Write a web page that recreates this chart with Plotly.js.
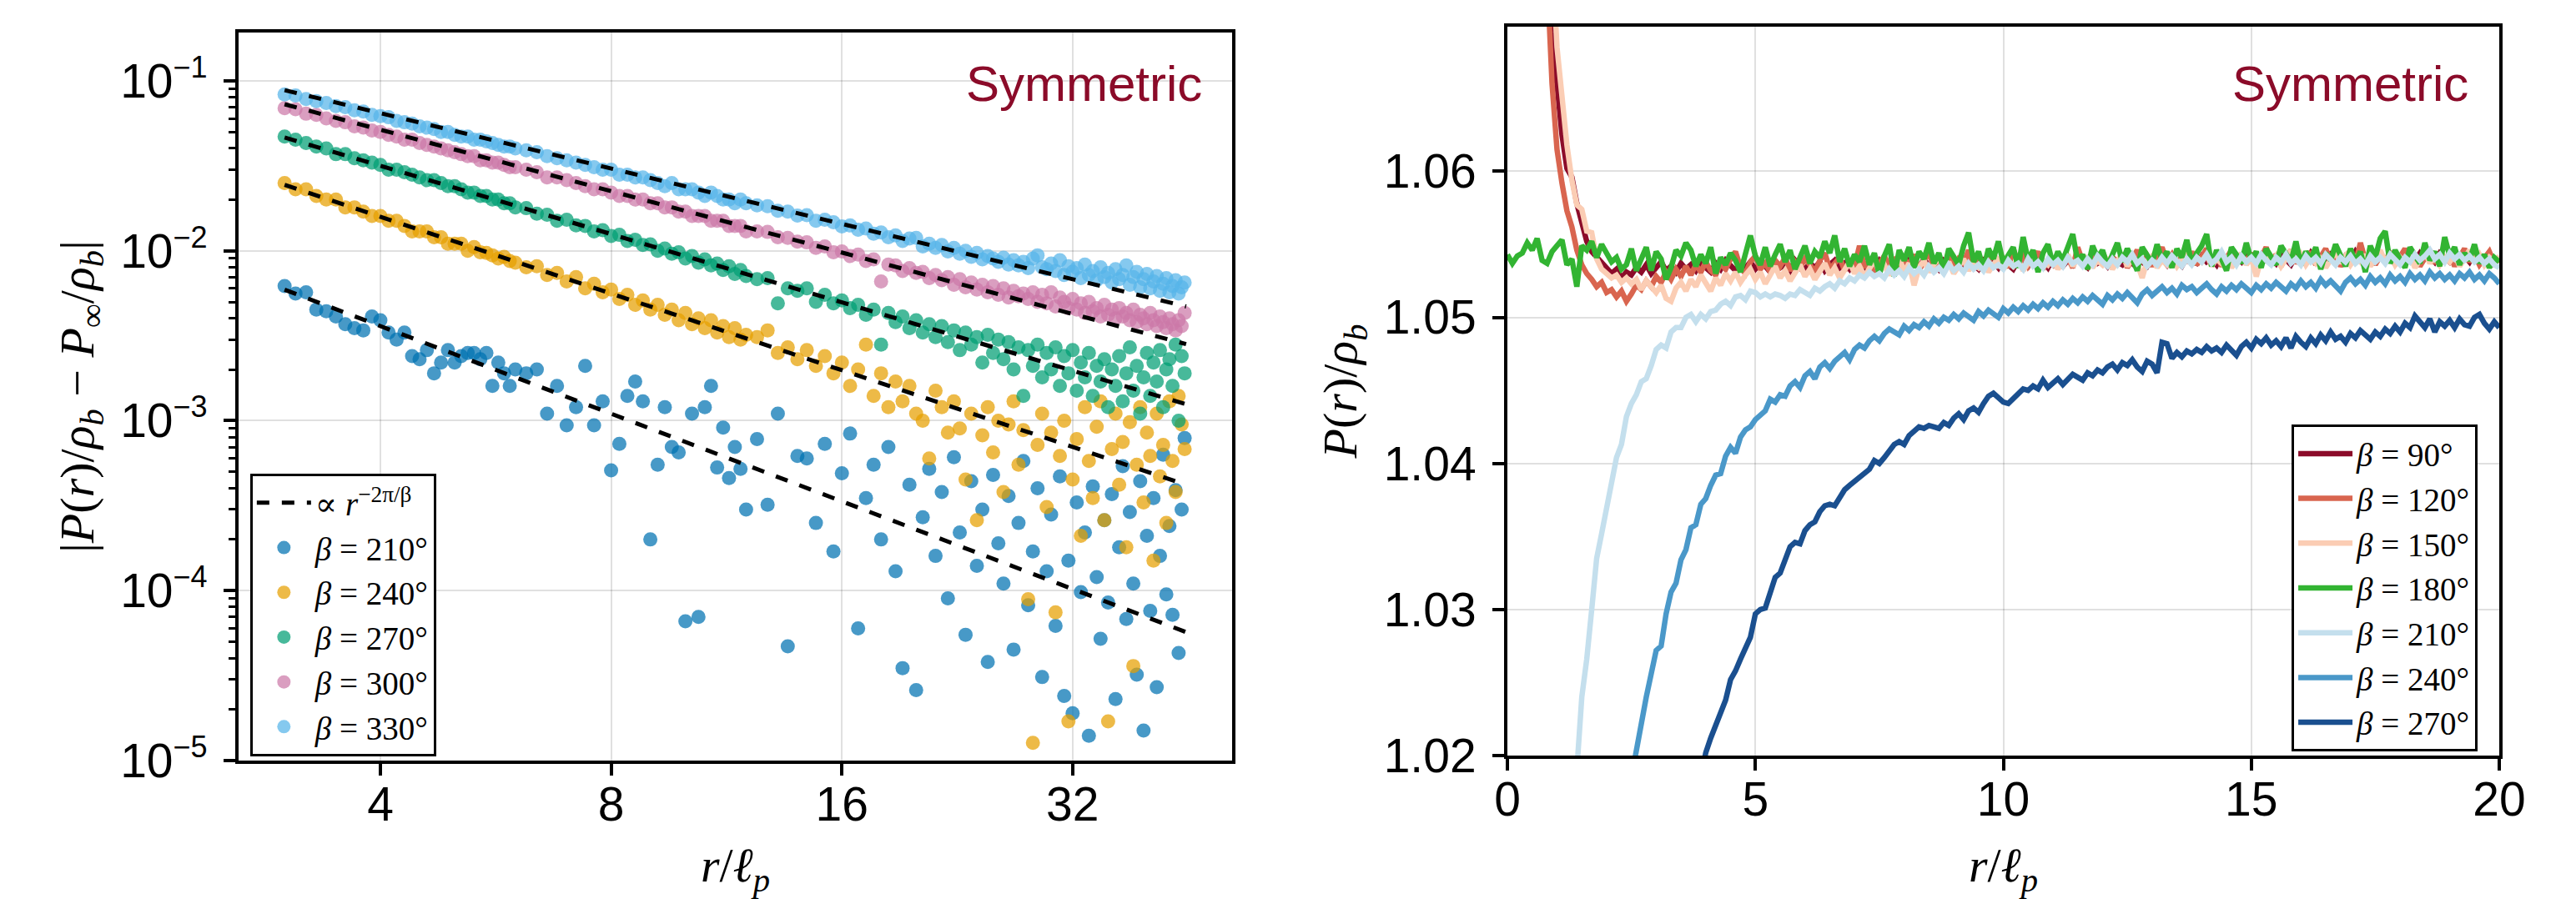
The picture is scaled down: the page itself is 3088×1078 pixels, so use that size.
<!DOCTYPE html>
<html>
<head>
<meta charset="utf-8">
<script src="https://cdn.plot.ly/plotly-3.0.1.min.js"></script>
<style>html,body{margin:0;padding:0;background:#fff;}#chart{width:3088px;height:1078px;}</style>
</head>
<body>
<div id="chart"></div>
<script>
// ---------------- LEFT PANEL DATA ----------------
const rLeft = [3.0,3.1,3.2,3.3,3.4,3.5,3.6,3.7,3.8,3.9,
4.0,4.1,4.2,4.3,4.4,4.5,4.6,4.7,4.8,4.9,
5.0,5.1,5.2,5.3,5.4,5.5,5.6,5.7,5.8,5.9,
6.0,
6.2,6.4,6.6,6.8,7.0,7.2,7.4,7.6,7.8,8.0,
8.2,8.4,8.6,8.8,9.0,9.2,9.4,9.6,9.8,10.0,
10.2,10.4,10.6,10.8,11.0,11.2,11.4,11.6,11.8,12.0,
12.4,12.8,13.2,13.6,14.0,14.4,14.8,15.2,15.6,16.0,
16.4,16.8,17.2,17.6,18.0,18.4,18.8,19.2,19.6,20.0,
20.4,20.8,21.2,21.6,22.0,22.4,22.8,23.2,23.6,24.0,
24.4,24.8,25.2,25.6,26.0,26.4,26.8,27.2,27.6,28.0,
28.4,28.8,29.2,29.6,30.0,30.4,30.8,31.2,31.6,32.0,
32.4,32.8,33.2,33.6,34.0,34.4,34.8,35.2,35.6,36.0,
36.4,36.8,37.2,37.6,38.0,38.4,38.8,39.2,39.6,40.0,
40.4,40.8,41.2,41.6,42.0,42.4,42.8,43.2,43.6,44.0,
44.4,44.8];

const dev210 = [0.0062,0.0056,0.0057,0.0045,0.0044,0.0041,0.0037,0.0035,0.0034,0.0041,
0.0039,0.0033,0.0030,0.0033,0.0024,0.0023,0.0026,0.0019,0.0022,0.0026,
0.0022,0.0024,0.0025,0.0025,0.0023,0.0025,0.0016,0.0022,0.0019,0.0016,
0.0020,
0.0019,0.0020,0.0011,0.0016,0.00094,0.0012,0.0021,0.00094,0.0013,0.00051,
0.00073,0.0014,0.0017,0.0013,0.00020,0.00055,0.0012,0.00070,0.00065,0.000066,
0.0011,0.000070,0.0012,0.0016,0.00053,0.00091,0.00046,0.00070,0.00052,0.00030,
0.00078,0.00032,0.00110,0.000047,0.00062,0.00060,0.00025,0.00073,0.00017,0.00049,
0.00084,0.000060,0.00035,0.00055,0.00020,0.00070,0.00013,0.000035,0.00042,0.000026,
0.00027,0.00052,0.00016,0.00038,0.000090,0.00061,0.00022,0.000055,0.00044,0.00014,
0.00030,0.000038,0.00048,0.00019,0.00011,0.00036,0.000045,0.00025,0.00058,0.000082,
0.00017,0.00040,0.000031,0.00013,0.00028,0.000062,0.00047,0.000024,0.00015,0.000019,
0.00033,0.000098,0.00022,0.000014,0.00041,0.00012,0.000052,0.00026,0.000085,0.00037,
0.000023,0.00018,0.00054,0.000068,0.00029,0.00011,0.000032,0.00044,0.000015,0.00021,
0.000076,0.00035,0.000027,0.00016,0.00063,0.000095,0.00024,0.000072,0.00039,0.000043,
0.00030,0.00079];

const dev240 = [0.025,0.023,0.023,0.021,0.020,0.020,0.018,0.018,0.017,0.016,
0.016,0.015,0.015,0.014,0.013,0.013,0.013,0.012,0.012,0.011,
0.011,0.011,0.010,0.0105,0.0098,0.0097,0.0094,0.0090,0.0092,0.0087,
0.0085,
0.0080,0.0081,0.0072,0.0074,0.0066,0.0070,0.0060,0.0064,0.0057,0.0059,
0.0052,0.0055,0.0048,0.0051,0.0045,0.0048,0.0042,0.0045,0.0039,0.0043,
0.0037,0.0040,0.0035,0.0039,0.0033,0.0036,0.0031,0.0035,0.0030,0.0032,
0.0031,0.0034,0.0025,0.0027,0.0023,0.0026,0.0021,0.0024,0.0019,0.0022,
0.0016,0.0020,0.0028,0.0014,0.0019,0.0012,0.0017,0.0013,0.0016,0.0011,
0.0010,0.00060,0.0015,0.0012,0.00085,0.0013,0.00090,0.00045,0.0011,0.00026,
0.00082,0.0012,0.00065,0.0010,0.00038,0.00095,0.0013,0.00055,0.00088,0.000089,
0.0000127,0.00072,0.0011,0.00031,0.00085,0.0000745,0.00062,0.0010,0.000017,0.00045,
0.00078,0.00021,0.0012,0.00058,0.00035,0.00092,0.0013,0.00026,0.000017,0.00068,
0.0011,0.00042,0.00075,0.00018,0.00098,0.000036,0.00055,0.0012,0.00033,0.00085,
0.00062,0.00015,0.0011,0.00047,0.00072,0.00025,0.0013,0.00058,0.00038,0.0014,
0.00095,0.00068];

const dev270 = [0.047,0.045,0.043,0.041,0.040,0.037,0.037,0.035,0.034,0.033,
0.032,0.030,0.030,0.029,0.028,0.027,0.026,0.026,0.025,0.024,
0.024,0.023,0.022,0.022,0.021,0.021,0.020,0.020,0.019,0.019,
0.018,
0.0178,0.0165,0.0163,0.0150,0.0152,0.0141,0.0140,0.0130,0.0132,0.0122,
0.0124,0.0114,0.0116,0.0108,0.0109,0.0100,0.0103,0.0096,0.0098,0.0090,
0.0093,0.0085,0.0089,0.0082,0.0084,0.0077,0.0081,0.0073,0.0077,0.0071,
0.0068,0.0069,0.0049,0.0060,0.0058,0.0060,0.0050,0.0055,0.0049,0.0051,
0.0046,0.0048,0.0042,0.0045,0.0028,0.0043,0.0038,0.0041,0.0035,0.0039,
0.0033,0.0037,0.0031,0.0036,0.0029,0.0034,0.0026,0.0033,0.0028,0.0031,
0.0022,0.0032,0.0025,0.0030,0.0023,0.0029,0.0020,0.0027,0.0014,0.0026,
0.0021,0.0028,0.0018,0.0025,0.0020,0.0027,0.0016,0.0024,0.0019,0.0026,
0.0015,0.0022,0.0018,0.0025,0.0014,0.0021,0.0017,0.0023,0.0012,0.0020,
0.0016,0.0024,0.0013,0.0019,0.0027,0.0015,0.0021,0.0011,0.0018,0.0025,
0.0014,0.0022,0.0017,0.0026,0.0012,0.0020,0.0023,0.0016,0.0028,0.0010,
0.0024,0.0019];

const dev300 = [0.069,0.068,0.064,0.063,0.060,0.058,0.057,0.054,0.053,0.051,
0.050,0.048,0.047,0.045,0.045,0.043,0.042,0.041,0.040,0.039,
0.038,0.037,0.036,0.036,0.034,0.034,0.033,0.033,0.032,0.031,
0.031,
0.030,0.029,0.027,0.027,0.026,0.025,0.024,0.023,0.023,0.022,
0.021,0.021,0.020,0.020,0.019,0.019,0.018,0.018,0.017,0.017,
0.016,0.016,0.016,0.015,0.015,0.015,0.014,0.014,0.014,0.013,
0.0130,0.0129,0.0120,0.0119,0.0113,0.0112,0.0104,0.0106,0.0098,0.0099,
0.0093,0.0095,0.0087,0.0089,0.0066,0.0083,0.0082,0.0076,0.0079,0.0074,
0.0075,0.0069,0.0072,0.0067,0.0070,0.0063,0.0068,0.0061,0.0065,0.0059,
0.0063,0.0057,0.0062,0.0055,0.0060,0.0053,0.0058,0.0054,0.0056,0.0052,
0.0057,0.0050,0.0055,0.0049,0.0057,0.0047,0.0053,0.0050,0.0046,0.0052,
0.0045,0.0049,0.0043,0.0050,0.0044,0.0046,0.0041,0.0048,0.0042,0.0045,
0.0040,0.0046,0.0041,0.0043,0.0039,0.0045,0.0038,0.0042,0.0040,0.0037,
0.0043,0.0039,0.0036,0.0041,0.0038,0.0035,0.0040,0.0037,0.0034,0.0039,
0.0036,0.0043];

const dev330 = [0.083,0.082,0.078,0.076,0.074,0.071,0.070,0.067,0.066,0.063,
0.062,0.061,0.058,0.057,0.056,0.054,0.053,0.052,0.050,0.050,
0.048,0.047,0.047,0.045,0.045,0.044,0.043,0.042,0.041,0.041,
0.040,
0.039,0.038,0.036,0.035,0.034,0.033,0.032,0.031,0.030,0.030,
0.028,0.028,0.027,0.027,0.026,0.025,0.024,0.025,0.023,0.023,
0.023,0.022,0.021,0.022,0.021,0.020,0.020,0.019,0.020,0.019,
0.0185,0.0183,0.0172,0.0170,0.0161,0.0162,0.0150,0.0152,0.0147,0.0139,
0.0141,0.0133,0.0135,0.0126,0.0128,0.0120,0.0123,0.0114,0.0118,0.0119,
0.0106,0.0110,0.0104,0.0108,0.0099,0.0104,0.0096,0.0100,0.0092,0.0097,
0.0089,0.0093,0.0090,0.0086,0.0091,0.0083,0.0088,0.0082,0.0086,0.0079,
0.0090,0.0094,0.0080,0.0078,0.0084,0.0076,0.0088,0.0072,0.0081,0.0075,
0.0079,0.0069,0.0083,0.0072,0.0076,0.0067,0.0080,0.0070,0.0074,0.0065,
0.0078,0.0068,0.0072,0.0082,0.0063,0.0070,0.0075,0.0061,0.0068,0.0073,
0.0060,0.0066,0.0071,0.0058,0.0064,0.0069,0.0057,0.0062,0.0067,0.0056,
0.0061,0.0065];

// power-law guide lines (end points)
const fitR = [3.0, 45.0];
const fit210 = [0.0059, 0.000057];
const fit240 = [0.0244, 0.00042];
const fit270 = [0.0464, 0.00125];
const fit300 = [0.0728, 0.00282];
const fit330 = [0.0880, 0.00470];

const leftBetas = ['210', '240', '270', '300', '330'];
const leftTicksX = [4, 8, 16, 32];
const leftTicksY = [1e-5, 1e-4, 1e-3, 1e-2, 1e-1];
const leftTickExp = ['−5', '−4', '−3', '−2', '−1'];

// ---------------- RIGHT PANEL DATA ----------------
const rStep = 0.1;
const start90 = 0.7, start120 = 0.7, start150 = 0.7, start180 = 0.0;
const start210 = 1.3, start240 = 2.5, start270 = 3.9;

const prof90 = [1.0880,1.0760,1.0695,1.0660,1.0625,1.0602,1.0596,1.0578,1.0563,1.0552,
1.0545,1.0541,1.0537,1.0534,1.0530,1.0533,1.0527,1.0531,1.0529,1.0534,
1.0531,1.0536,1.0530,1.0534,1.0538,1.0532,1.0535,1.0531,1.0537,1.0533,
1.0536,1.0532,1.0538,1.0534,1.0531,1.0537,1.0533,1.0539,1.0535,1.0532,
1.0536,1.0534,1.0538,1.0533,1.0537,1.0535,1.0531,1.0538,1.0534,1.0536,
1.0532,1.0539,1.0535,1.0533,1.0537,1.0534,1.0538,1.0532,1.0536,1.0539,
1.0534,1.0537,1.0533,1.0538,1.0535,1.0531,1.0537,1.0534,1.0539,1.0536,
1.0532,1.0538,1.0535,1.0533,1.0539,1.0536,1.0534,1.0540,1.0535,1.0537,
1.0533,1.0539,1.0536,1.0534,1.0538,1.0535,1.0541,1.0536,1.0533,1.0539,
1.0536,1.0538,1.0534,1.0540,1.0536,1.0533,1.0539,1.0537,1.0535,1.0541,
1.0536,1.0538,1.0534,1.0540,1.0537,1.0535,1.0539,1.0536,1.0542,1.0537,
1.0534,1.0540,1.0537,1.0539,1.0535,1.0541,1.0538,1.0536,1.0540,1.0537,
1.0543,1.0538,1.0535,1.0541,1.0538,1.0540,1.0536,1.0542,1.0538,1.0535,
1.0541,1.0539,1.0537,1.0542,1.0538,1.0540,1.0536,1.0543,1.0539,1.0537,
1.0541,1.0538,1.0544,1.0539,1.0536,1.0542,1.0539,1.0541,1.0537,1.0543,
1.0539,1.0536,1.0542,1.0540,1.0538,1.0544,1.0539,1.0541,1.0537,1.0543,
1.0540,1.0537,1.0542,1.0539,1.0545,1.0540,1.0537,1.0543,1.0540,1.0542,
1.0538,1.0544,1.0540,1.0537,1.0543,1.0541,1.0539,1.0544,1.0540,1.0542,
1.0538,1.0544,1.0541,1.0538,1.0543,1.0540,1.0542,1.0538,1.0544,1.0541,
1.0539,1.0543,1.0540,1.0538];

const prof120 = [1.0850,1.0735,1.0660,1.0615,1.0592,1.0573,1.0562,1.0546,1.0536,1.0530,
1.0526,1.0521,1.0524,1.0517,1.0519,1.0514,1.0518,1.0511,1.0516,1.0522,
1.0519,1.0525,1.0521,1.0528,1.0524,1.0531,1.0526,1.0533,1.0528,1.0535,
1.0529,1.0536,1.0531,1.0538,1.0532,1.0529,1.0537,1.0533,1.0540,1.0545,
1.0534,1.0530,1.0538,1.0542,1.0533,1.0537,1.0531,1.0539,1.0535,1.0541,
1.0532,1.0538,1.0534,1.0540,1.0536,1.0531,1.0539,1.0544,1.0533,1.0537,
1.0541,1.0532,1.0538,1.0535,1.0549,1.0534,1.0539,1.0531,1.0537,1.0542,
1.0535,1.0539,1.0533,1.0540,1.0536,1.0543,1.0532,1.0538,1.0545,1.0534,
1.0539,1.0536,1.0542,1.0533,1.0540,1.0537,1.0546,1.0535,1.0541,1.0532,
1.0538,1.0544,1.0536,1.0540,1.0534,1.0547,1.0537,1.0542,1.0535,1.0540,
1.0545,1.0533,1.0539,1.0536,1.0543,1.0537,1.0541,1.0534,1.0548,1.0538,
1.0535,1.0542,1.0539,1.0545,1.0536,1.0541,1.0538,1.0544,1.0534,1.0540,
1.0546,1.0537,1.0542,1.0535,1.0541,1.0548,1.0538,1.0543,1.0536,1.0542,
1.0539,1.0545,1.0536,1.0541,1.0547,1.0538,1.0543,1.0535,1.0540,1.0546,
1.0537,1.0542,1.0539,1.0544,1.0536,1.0541,1.0548,1.0538,1.0543,1.0535,
1.0541,1.0546,1.0537,1.0542,1.0539,1.0545,1.0536,1.0541,1.0547,1.0538,
1.0543,1.0535,1.0540,1.0546,1.0537,1.0551,1.0539,1.0544,1.0536,1.0542,
1.0538,1.0545,1.0536,1.0541,1.0547,1.0538,1.0543,1.0535,1.0540,1.0546,
1.0537,1.0542,1.0539,1.0544,1.0535,1.0541,1.0547,1.0538,1.0543,1.0536,
1.0541,1.0545,1.0537,1.0540];

const prof150 = [1.0950,1.0850,1.0750,1.0685,1.0649,1.0618,1.0594,1.0577,1.0574,1.0559,
1.0558,1.0540,1.0533,1.0530,1.0527,1.0529,1.0524,1.0527,1.0523,1.0526,
1.0519,1.0525,1.0521,1.0517,1.0522,1.0513,1.0511,1.0520,1.0524,1.0518,
1.0526,1.0521,1.0529,1.0523,1.0518,1.0527,1.0522,1.0530,1.0525,1.0531,
1.0524,1.0529,1.0533,1.0526,1.0531,1.0523,1.0529,1.0535,1.0527,1.0532,
1.0525,1.0530,1.0536,1.0528,1.0533,1.0526,1.0531,1.0537,1.0529,1.0534,
1.0527,1.0532,1.0538,1.0530,1.0535,1.0528,1.0533,1.0539,1.0531,1.0536,
1.0529,1.0534,1.0540,1.0532,1.0537,1.0522,1.0534,1.0539,1.0531,1.0536,
1.0541,1.0533,1.0538,1.0530,1.0535,1.0540,1.0532,1.0537,1.0534,1.0539,
1.0531,1.0536,1.0541,1.0533,1.0538,1.0535,1.0540,1.0532,1.0537,1.0542,
1.0534,1.0539,1.0536,1.0541,1.0533,1.0538,1.0543,1.0535,1.0540,1.0537,
1.0542,1.0534,1.0539,1.0536,1.0541,1.0533,1.0538,1.0544,1.0535,1.0540,
1.0537,1.0527,1.0539,1.0542,1.0534,1.0539,1.0536,1.0541,1.0535,1.0540,
1.0545,1.0536,1.0541,1.0538,1.0543,1.0535,1.0540,1.0537,1.0542,1.0534,
1.0539,1.0544,1.0536,1.0541,1.0528,1.0540,1.0545,1.0537,1.0542,1.0535,
1.0540,1.0546,1.0538,1.0543,1.0536,1.0541,1.0537,1.0542,1.0534,1.0539,
1.0545,1.0537,1.0542,1.0536,1.0541,1.0538,1.0543,1.0535,1.0540,1.0546,
1.0538,1.0543,1.0536,1.0541,1.0537,1.0542,1.0534,1.0539,1.0545,1.0537,
1.0542,1.0536,1.0541,1.0538,1.0543,1.0535,1.0540,1.0546,1.0538,1.0543,
1.0536,1.0541,1.0538,1.0542];

const prof180 = [1.0543,1.0537,1.0542,1.0544,1.0551,1.0546,1.0554,1.0539,1.0537,1.0545,
1.0549,1.0553,1.0536,1.0540,1.0521,1.0549,1.0546,1.0552,1.0541,1.0550,
1.0544,1.0538,1.0541,1.0533,1.0536,1.0547,1.0532,1.0541,1.0548,1.0532,
1.0545,1.0540,1.0526,1.0534,1.0546,1.0542,1.0551,1.0546,1.0535,1.0543,
1.0537,1.0548,1.0530,1.0541,1.0536,1.0544,1.0539,1.0531,1.0545,1.0556,
1.0542,1.0536,1.0548,1.0535,1.0543,1.0550,1.0538,1.0546,1.0533,1.0542,
1.0549,1.0537,1.0545,1.0541,1.0552,1.0544,1.0556,1.0538,1.0547,1.0535,
1.0543,1.0538,1.0549,1.0536,1.0544,1.0529,1.0542,1.0550,1.0528,1.0546,
1.0539,1.0548,1.0534,1.0545,1.0540,1.0551,1.0537,1.0544,1.0532,1.0547,
1.0541,1.0536,1.0549,1.0558,1.0538,1.0545,1.0533,1.0547,1.0540,1.0552,
1.0537,1.0543,1.0548,1.0534,1.0555,1.0539,1.0546,1.0531,1.0544,1.0550,
1.0536,1.0545,1.0539,1.0548,1.0557,1.0538,1.0543,1.0533,1.0549,1.0541,
1.0546,1.0535,1.0544,1.0551,1.0538,1.0547,1.0540,1.0532,1.0548,1.0542,
1.0537,1.0550,1.0539,1.0545,1.0534,1.0547,1.0541,1.0553,1.0536,1.0544,
1.0549,1.0557,1.0535,1.0546,1.0540,1.0532,1.0548,1.0543,1.0537,1.0551,
1.0539,1.0545,1.0534,1.0547,1.0541,1.0536,1.0549,1.0543,1.0538,1.0552,
1.0536,1.0545,1.0540,1.0548,1.0533,1.0544,1.0539,1.0550,1.0542,1.0535,
1.0547,1.0538,1.0545,1.0531,1.0549,1.0541,1.0554,1.0559,1.0537,1.0546,
1.0540,1.0534,1.0548,1.0543,1.0537,1.0551,1.0539,1.0545,1.0535,1.0555,
1.0542,1.0548,1.0536,1.0544,1.0539,1.0550,1.0537,1.0543,1.0534,1.0541,
1.0538];

const prof210 = [1.0100,1.0190,1.0240,1.0266,1.0300,1.0335,1.0352,1.0370,1.0388,1.0404,
1.0413,1.0432,1.0441,1.0447,1.0456,1.0458,1.0467,1.0478,1.0481,1.0479,
1.0490,1.0493,1.0493,1.0500,1.0502,1.0497,1.0502,1.0499,1.0504,1.0505,
1.0509,1.0511,1.0508,1.0514,1.0515,1.0512,1.0518,1.0517,1.0514,1.0516,
1.0514,1.0516,1.0515,1.0513,1.0516,1.0515,1.0519,1.0517,1.0515,1.0520,
1.0518,1.0521,1.0523,1.0520,1.0525,1.0523,1.0527,1.0525,1.0529,1.0527,
1.0531,1.0528,1.0530,1.0527,1.0533,1.0529,1.0532,1.0528,1.0534,1.0530,
1.0533,1.0529,1.0535,1.0531,1.0534,1.0530,1.0536,1.0532,1.0535,1.0531,
1.0537,1.0533,1.0536,1.0532,1.0538,1.0534,1.0536,1.0533,1.0539,1.0535,
1.0537,1.0533,1.0540,1.0535,1.0538,1.0534,1.0540,1.0536,1.0539,1.0535,
1.0541,1.0537,1.0539,1.0535,1.0540,1.0536,1.0542,1.0538,1.0535,1.0540,
1.0536,1.0541,1.0538,1.0543,1.0537,1.0540,1.0535,1.0539,1.0536,1.0541,
1.0537,1.0542,1.0538,1.0535,1.0540,1.0536,1.0541,1.0538,1.0543,1.0537,
1.0540,1.0545,1.0538,1.0541,1.0536,1.0542,1.0538,1.0541,1.0537,1.0543,
1.0539,1.0536,1.0541,1.0538,1.0543,1.0537,1.0540,1.0536,1.0542,1.0538,
1.0541,1.0537,1.0543,1.0539,1.0536,1.0541,1.0538,1.0542,1.0537,1.0540,
1.0536,1.0542,1.0538,1.0541,1.0537,1.0543,1.0539,1.0536,1.0541,1.0538,
1.0543,1.0539,1.0542,1.0546,1.0540,1.0543,1.0538,1.0544,1.0540,1.0543,
1.0539,1.0542,1.0538,1.0541,1.0537,1.0540,1.0536,1.0534];

const prof240 = [1.0185,1.0205,1.0225,1.0240,1.0256,1.0272,1.0275,1.0297,1.0312,1.0318,
1.0334,1.0341,1.0356,1.0358,1.0372,1.0376,1.0385,1.0392,1.0393,1.0405,
1.0411,1.0407,1.0418,1.0423,1.0425,1.0430,1.0433,1.0436,1.0444,1.0442,
1.0447,1.0446,1.0453,1.0456,1.0452,1.0460,1.0463,1.0458,1.0466,1.0469,
1.0465,1.0470,1.0473,1.0476,1.0471,1.0478,1.0481,1.0479,1.0484,1.0487,
1.0484,1.0489,1.0492,1.0490,1.0488,1.0494,1.0491,1.0495,1.0493,1.0497,
1.0494,1.0499,1.0496,1.0500,1.0498,1.0502,1.0499,1.0503,1.0500,1.0498,
1.0504,1.0501,1.0505,1.0502,1.0500,1.0506,1.0503,1.0507,1.0504,1.0508,
1.0505,1.0509,1.0506,1.0510,1.0507,1.0511,1.0508,1.0512,1.0509,1.0513,
1.0510,1.0514,1.0511,1.0515,1.0512,1.0509,1.0515,1.0512,1.0516,1.0513,
1.0517,1.0514,1.0510,1.0516,1.0519,1.0515,1.0518,1.0521,1.0517,1.0520,
1.0516,1.0522,1.0519,1.0521,1.0517,1.0520,1.0523,1.0519,1.0516,1.0521,
1.0518,1.0522,1.0519,1.0523,1.0520,1.0517,1.0522,1.0519,1.0523,1.0520,
1.0524,1.0521,1.0518,1.0523,1.0520,1.0525,1.0521,1.0524,1.0520,1.0526,
1.0522,1.0525,1.0521,1.0518,1.0524,1.0527,1.0523,1.0526,1.0522,1.0528,
1.0524,1.0527,1.0523,1.0529,1.0525,1.0528,1.0524,1.0530,1.0526,1.0529,
1.0525,1.0531,1.0527,1.0530,1.0526,1.0529,1.0525,1.0530,1.0527,1.0531,
1.0526,1.0529,1.0525,1.0530,1.0527,1.0523];

const prof270 = [1.0185,1.0202,1.0212,1.0220,1.0229,1.0238,1.0252,1.0258,1.0266,1.0273,
1.0281,1.0297,1.0300,1.0301,1.0312,1.0322,1.0325,1.0333,1.0343,1.0346,
1.0345,1.0354,1.0358,1.0360,1.0367,1.0371,1.0372,1.0371,1.0376,1.0382,
1.0385,1.0388,1.0391,1.0394,1.0396,1.0402,1.0400,1.0404,1.0409,1.0413,
1.0415,1.0413,1.0419,1.0422,1.0425,1.0424,1.0426,1.0425,1.0424,1.0428,
1.0426,1.0431,1.0434,1.0430,1.0436,1.0438,1.0435,1.0441,1.0446,1.0448,
1.0445,1.0442,1.0441,1.0444,1.0447,1.0451,1.0450,1.0453,1.0451,1.0457,
1.0452,1.0455,1.0458,1.0454,1.0458,1.0461,1.0459,1.0457,1.0462,1.0460,
1.0464,1.0462,1.0466,1.0468,1.0464,1.0469,1.0467,1.0471,1.0466,1.0463,
1.0470,1.0468,1.0462,1.0483,1.0482,1.0472,1.0476,1.0473,1.0477,1.0475,
1.0478,1.0476,1.0480,1.0477,1.0479,1.0476,1.0481,1.0478,1.0474,1.0480,
1.0483,1.0479,1.0485,1.0482,1.0486,1.0481,1.0484,1.0480,1.0486,1.0479,
1.0487,1.0483,1.0480,1.0486,1.0482,1.0488,1.0484,1.0490,1.0485,1.0487,
1.0483,1.0489,1.0486,1.0491,1.0488,1.0485,1.0490,1.0487,1.0492,1.0489,
1.0494,1.0490,1.0496,1.0493,1.0501,1.0497,1.0493,1.0499,1.0490,1.0497,
1.0494,1.0498,1.0493,1.0499,1.0495,1.0494,1.0500,1.0502,1.0496,1.0492,
1.0497,1.0493];

const rightBetas = ['90', '120', '150', '180', '210', '240', '270'];
const rightTicksY = [1.02, 1.03, 1.04, 1.05, 1.06];

// ---------------- STYLES ----------------
const serif = 'Liberation Serif, DejaVu Serif, serif';
const sans = 'Liberation Sans, Arial, Helvetica, sans-serif';
const leftColors = ['#0072B2', '#E69F00', '#009E73', '#CC79A7', '#56B4E9'];
const rightColors = ['#8c0c2a', '#d9654f', '#fbcdb4', '#32b432', '#c4dfed', '#4a98c9', '#1a4f8f'];

const leftSeries = [dev210, dev240, dev270, dev300, dev330];
const fitSeries = [fit210, fit240, fit270, fit300, fit330];
const rightSeries = [prof90, prof120, prof150, prof180, prof210, prof240, prof270];
const rightStarts = [start90, start120, start150, start180, start210, start240, start270];

const traces = [];
leftSeries.forEach((ys, i) => {
  traces.push({
    type: 'scatter', mode: 'markers', x: rLeft, y: ys,
    xaxis: 'x', yaxis: 'y', legend: 'legend', legendrank: 2 + i,
    name: '<i>β</i> = ' + leftBetas[i] + '°',
    marker: { color: leftColors[i], size: 17, opacity: 0.72, line: { width: 0 } },
    hoverinfo: 'skip'
  });
});
fitSeries.forEach((ys, i) => {
  traces.push({
    type: 'scatter', mode: 'lines', x: fitR, y: ys,
    xaxis: 'x', yaxis: 'y', legend: 'legend', legendrank: 1,
    legendgroup: 'fit', showlegend: i === 0,
    name: '∝ <i>r</i><sup>−2π/β</sup>',
    line: { color: 'black', width: 5, dash: 'dash' },
    hoverinfo: 'skip'
  });
});
rightSeries.forEach((ys, i) => {
  traces.push({
    type: 'scatter', mode: 'lines', x0: rightStarts[i], dx: rStep, y: ys,
    xaxis: 'x2', yaxis: 'y2', legend: 'legend2',
    name: '<i>β</i> = ' + rightBetas[i] + '°',
    line: { color: rightColors[i], width: 6.5 },
    hoverinfo: 'skip'
  });
});

const axisCommon = {
  showline: true, linecolor: 'black', linewidth: 4, mirror: true,
  ticks: 'outside', ticklen: 14, tickwidth: 4, tickcolor: 'black',
  showgrid: true, gridcolor: 'rgba(0,0,0,0.12)', gridwidth: 2,
  zeroline: false, tickfont: { family: sans, size: 57, color: 'black' },
  ticklabelstandoff: 8
};
const titleFont = { family: serif, size: 58, color: 'black' };

const layout = {
  width: 3088, height: 1078,
  margin: { l: 0, r: 0, t: 0, b: 0 },
  paper_bgcolor: 'white', plot_bgcolor: 'white',
  font: { family: sans, size: 57, color: 'black' },
  xaxis: Object.assign({}, axisCommon, {
    domain: [0.09262, 0.47830], anchor: 'y', type: 'log',
    range: [0.4171, 1.7132], tickmode: 'array', tickvals: leftTicksX,
    ticktext: leftTicksX.map(String), ticklabelstandoff: -14,
    title: { text: '<i>r</i>/<i>ℓ</i><sub><i>p</i></sub>', font: titleFont, standoff: 30 }
  }),
  yaxis: Object.assign({}, axisCommon, {
    domain: [0.15399, 0.96382], anchor: 'x', type: 'log',
    range: [-5, -0.716], tickmode: 'array', tickvals: leftTicksY,
    ticktext: leftTickExp.map(e => '10<sup><span style="font-size:36px">' + e + '</span></sup>'),
    minor: { ticks: 'outside', ticklen: 8, tickwidth: 3, tickcolor: 'black', dtick: 'D1', showgrid: false },
    title: { text: '|<i>P</i>(<i>r</i>)/<i>ρ</i><sub><i>b</i></sub> − <i>P</i><sub>∞</sub>/<i>ρ</i><sub><i>b</i></sub>|', font: titleFont, standoff: 14 }
  }),
  xaxis2: Object.assign({}, axisCommon, {
    domain: [0.58517, 0.97021], anchor: 'y2',
    range: [0, 20], tickmode: 'linear', tick0: 0, dtick: 5, ticklabelstandoff: -14,
    title: { text: '<i>r</i>/<i>ℓ</i><sub><i>p</i></sub>', font: titleFont, standoff: 30 }
  }),
  yaxis2: Object.assign({}, axisCommon, {
    domain: [0.15955, 0.97032], anchor: 'x2',
    range: [1.02, 1.0699], tickmode: 'array', tickvals: rightTicksY,
    ticktext: rightTicksY.map(v => v.toFixed(2)),
    title: { text: '<i>P</i>(<i>r</i>)/<i>ρ</i><sub><i>b</i></sub>', font: titleFont, standoff: 14 }
  }),
  legend: {
    x: 0.0971, y: 0.4731, xanchor: 'left', yanchor: 'top',
    bgcolor: 'white', bordercolor: 'black', borderwidth: 3,
    font: { family: serif, size: 39, color: 'black' },
    itemwidth: 65, tracegroupgap: 0
  },
  legend2: {
    x: 0.8896, y: 0.5278, xanchor: 'left', yanchor: 'top',
    bgcolor: 'white', bordercolor: 'black', borderwidth: 3,
    font: { family: serif, size: 39, color: 'black' },
    itemwidth: 65, tracegroupgap: 0
  },
  annotations: [
    { text: 'Symmetric', xref: 'paper', yref: 'paper', x: 0.4673, y: 0.907,
      xanchor: 'right', yanchor: 'middle', showarrow: false,
      font: { family: sans, size: 60, color: '#8b0b29' } },
    { text: 'Symmetric', xref: 'paper', yref: 'paper', x: 0.9589, y: 0.907,
      xanchor: 'right', yanchor: 'middle', showarrow: false,
      font: { family: sans, size: 60, color: '#8b0b29' } }
  ]
};

Plotly.newPlot('chart', traces, layout, { staticPlot: true, displayModeBar: false });
</script>
</body>
</html>
